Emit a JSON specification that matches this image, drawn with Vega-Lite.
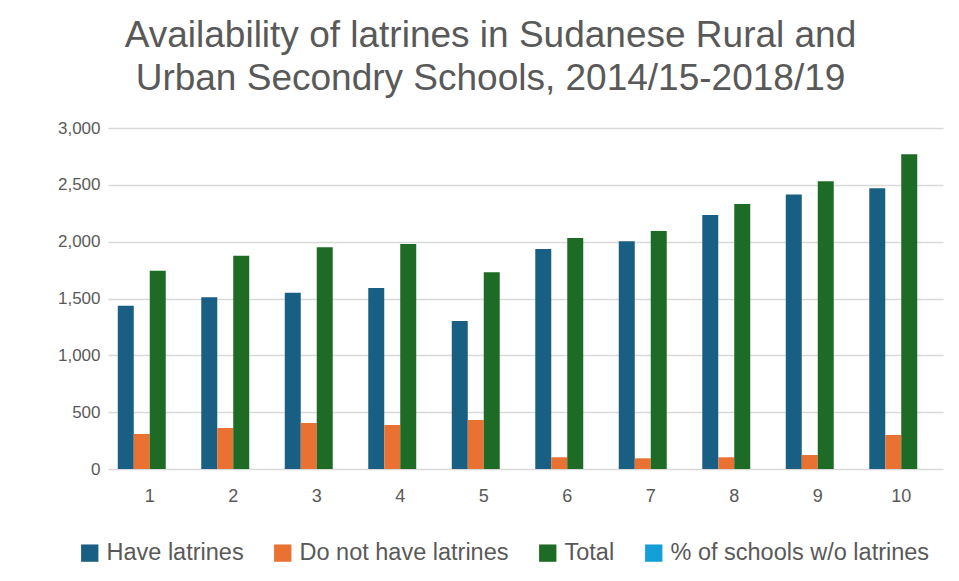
{
  "$schema": "https://vega.github.io/schema/vega-lite/v6.json",
  "width": 835,
  "height": 341,
  "autosize": "none",
  "padding": {"left": 108, "top": 128, "right": 16, "bottom": 112},
  "background": "white",
  "config": {
    "font": "Liberation Sans",
    "view": {"stroke": null}
  },
  "title": {
    "text": ["Availability of latrines in Sudanese Rural and", "Urban Secondry Schools, 2014/15-2018/19"],
    "fontSize": 37,
    "fontWeight": "normal",
    "color": "#595959",
    "lineHeight": 43,
    "anchor": "middle",
    "frame": "group",
    "dx": -35,
    "offset": 21
  },
  "data": {
    "values": [
      {"year": 1, "series": "Have latrines", "value": 1437},
      {"year": 1, "series": "Do not have latrines", "value": 308},
      {"year": 1, "series": "Total", "value": 1745},
      {"year": 1, "series": "% of schools w/o latrines", "value": 0.177},
      {"year": 2, "series": "Have latrines", "value": 1510},
      {"year": 2, "series": "Do not have latrines", "value": 361},
      {"year": 2, "series": "Total", "value": 1877},
      {"year": 2, "series": "% of schools w/o latrines", "value": 0.192},
      {"year": 3, "series": "Have latrines", "value": 1551},
      {"year": 3, "series": "Do not have latrines", "value": 405},
      {"year": 3, "series": "Total", "value": 1950},
      {"year": 3, "series": "% of schools w/o latrines", "value": 0.208},
      {"year": 4, "series": "Have latrines", "value": 1592},
      {"year": 4, "series": "Do not have latrines", "value": 387},
      {"year": 4, "series": "Total", "value": 1979},
      {"year": 4, "series": "% of schools w/o latrines", "value": 0.196},
      {"year": 5, "series": "Have latrines", "value": 1302},
      {"year": 5, "series": "Do not have latrines", "value": 431},
      {"year": 5, "series": "Total", "value": 1730},
      {"year": 5, "series": "% of schools w/o latrines", "value": 0.249},
      {"year": 6, "series": "Have latrines", "value": 1935},
      {"year": 6, "series": "Do not have latrines", "value": 103},
      {"year": 6, "series": "Total", "value": 2032},
      {"year": 6, "series": "% of schools w/o latrines", "value": 0.051},
      {"year": 7, "series": "Have latrines", "value": 2003},
      {"year": 7, "series": "Do not have latrines", "value": 94},
      {"year": 7, "series": "Total", "value": 2094},
      {"year": 7, "series": "% of schools w/o latrines", "value": 0.045},
      {"year": 8, "series": "Have latrines", "value": 2235},
      {"year": 8, "series": "Do not have latrines", "value": 103},
      {"year": 8, "series": "Total", "value": 2331},
      {"year": 8, "series": "% of schools w/o latrines", "value": 0.044},
      {"year": 9, "series": "Have latrines", "value": 2416},
      {"year": 9, "series": "Do not have latrines", "value": 123},
      {"year": 9, "series": "Total", "value": 2531},
      {"year": 9, "series": "% of schools w/o latrines", "value": 0.049},
      {"year": 10, "series": "Have latrines", "value": 2469},
      {"year": 10, "series": "Do not have latrines", "value": 299},
      {"year": 10, "series": "Total", "value": 2768},
      {"year": 10, "series": "% of schools w/o latrines", "value": 0.108}
    ]
  },
  "mark": {"type": "bar"},
  "encoding": {
    "x": {
      "field": "year",
      "type": "ordinal",
      "scale": {"paddingInner": 0.234, "paddingOuter": 0.117},
      "axis": {
        "title": null,
        "labelAngle": 0,
        "labelFontSize": 18,
        "labelColor": "#595959",
        "labelPadding": 18,
        "ticks": false,
        "domain": false
      }
    },
    "xOffset": {
      "field": "series",
      "type": "nominal",
      "sort": ["Have latrines", "Do not have latrines", "Total", "% of schools w/o latrines"],
      "scale": {"paddingInner": 0, "paddingOuter": 0}
    },
    "y": {
      "field": "value",
      "type": "quantitative",
      "scale": {"domain": [0, 3000], "nice": false},
      "axis": {
        "title": null,
        "values": [0, 500, 1000, 1500, 2000, 2500, 3000],
        "format": ",.0f",
        "labelFontSize": 17,
        "labelColor": "#595959",
        "labelPadding": 8,
        "ticks": false,
        "domain": false,
        "gridColor": "#d9d9d9",
        "gridWidth": 1.5
      }
    },
    "color": {
      "field": "series",
      "type": "nominal",
      "sort": ["Have latrines", "Do not have latrines", "Total", "% of schools w/o latrines"],
      "scale": {
        "domain": ["Have latrines", "Do not have latrines", "Total", "% of schools w/o latrines"],
        "range": ["#185f83", "#e97132", "#1d6b25", "#159fd9"]
      },
      "legend": {
        "title": null,
        "orient": "none",
        "direction": "horizontal",
        "legendX": -30,
        "legendY": 413,
        "symbolType": "square",
        "symbolSize": 300,
        "symbolStrokeWidth": 0,
        "labelFontSize": 23.5,
        "labelColor": "#595959",
        "labelOffset": 5,
        "columnPadding": 27,
        "labelLimit": 400
      }
    }
  }
}
